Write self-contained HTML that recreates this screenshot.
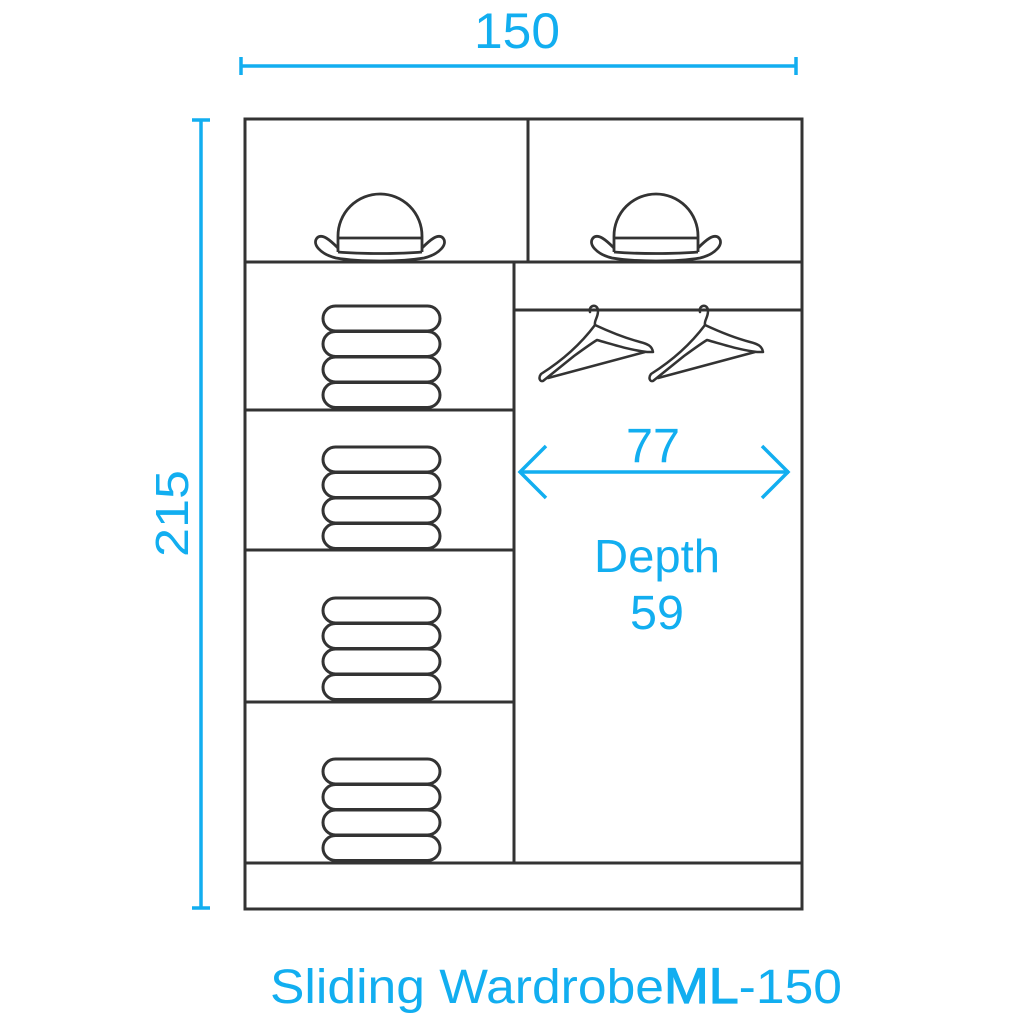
<!DOCTYPE html>
<html><head><meta charset="utf-8"><style>
html,body{margin:0;padding:0;background:#fff;}
svg{display:block;}
text{font-family:"Liberation Sans",sans-serif;fill:#12aef0;}
</style></head><body>
<svg width="1028" height="1028" viewBox="0 0 1028 1028" xmlns="http://www.w3.org/2000/svg">
<defs>
<g id="hat" fill="none" stroke="#333" stroke-width="2.8" stroke-linejoin="round">
  <path d="M338 248 C330 240 322 233 317 238 C312 244 320 254 336 258 C360 262 400 262 424 258 C440 254 448 244 443 238 C438 233 430 240 422 248"/>
  <path d="M338 252 L338 236 A42 42 0 0 1 422 236 L422 252"/>
  <line x1="338" y1="238" x2="422" y2="238"/>
  <path d="M338 252 C360 254 400 254 422 252"/>
</g>
<g id="towel" fill="#fff" stroke="#333" stroke-width="3">
  <rect x="323" y="0" width="117" height="25" rx="12.5"/>
</g>
<g id="stack">
  <use href="#towel" y="0"/><use href="#towel" y="25.5"/><use href="#towel" y="51"/><use href="#towel" y="76.5"/>
</g>
<g id="hanger" fill="none" stroke="#333" stroke-width="2.5" stroke-linejoin="round" stroke-linecap="round">
  <path d="M590 312 C588 305 598 303 598 311 C598 318 594 320 595 325"/>
  <path d="M595 325 C580 345 560 362 541 374 C538 378 540 382 543 381 L574 356 C585 348 592 343 597 340 C615 345 630 350 647 352 L653 352 C652 346 648 344 640 342 C625 338 610 332 595 325 Z"/>
  <path d="M548 378 L645 352"/>
</g>
</defs>

<g stroke="#12aef0" stroke-width="3.5" fill="none">
  <line x1="241" y1="66" x2="796" y2="66"/>
  <line x1="241" y1="57" x2="241" y2="75"/>
  <line x1="796" y1="57" x2="796" y2="75"/>
  <line x1="201" y1="119" x2="201" y2="909"/>
  <line x1="192" y1="120" x2="210" y2="120"/>
  <line x1="192" y1="908" x2="210" y2="908"/>
  <line x1="520" y1="472" x2="789" y2="472"/>
  <polyline points="546,446 520,472 546,498"/>
  <polyline points="762,446 788,472 762,498"/>
</g>
<text x="474" y="48" font-size="50" textLength="86" lengthAdjust="spacingAndGlyphs">150</text>
<text transform="translate(188,557) rotate(-90)" font-size="46" textLength="87" lengthAdjust="spacingAndGlyphs">215</text>
<text x="626" y="462" font-size="48" textLength="54" lengthAdjust="spacingAndGlyphs">77</text>
<text x="594" y="572" font-size="46" textLength="126" lengthAdjust="spacingAndGlyphs">Depth</text>
<text x="630" y="629" font-size="48" textLength="54" lengthAdjust="spacingAndGlyphs">59</text>
<text x="270" y="1003" font-size="48" textLength="572" lengthAdjust="spacingAndGlyphs">Sliding Wardrobe<tspan font-size="50" stroke="#12aef0" stroke-width="1.2">ML</tspan>-150</text>

<g stroke="#333" stroke-width="3" fill="none">
  <rect x="245" y="119" width="557" height="790"/>
  <line x1="528" y1="119" x2="528" y2="262"/>
  <line x1="245" y1="262" x2="802" y2="262"/>
  <line x1="514" y1="262" x2="514" y2="863"/>
  <line x1="514" y1="310" x2="802" y2="310"/>
  <line x1="245" y1="410" x2="514" y2="410"/>
  <line x1="245" y1="550" x2="514" y2="550"/>
  <line x1="245" y1="702" x2="514" y2="702"/>
  <line x1="245" y1="863" x2="802" y2="863"/>
</g>
<use href="#hat"/>
<use href="#hat" x="276"/>
<use href="#stack" y="306"/>
<use href="#stack" y="447"/>
<use href="#stack" y="598"/>
<use href="#stack" y="759"/>
<use href="#hanger"/>
<use href="#hanger" x="110"/>
</svg>
</body></html>
